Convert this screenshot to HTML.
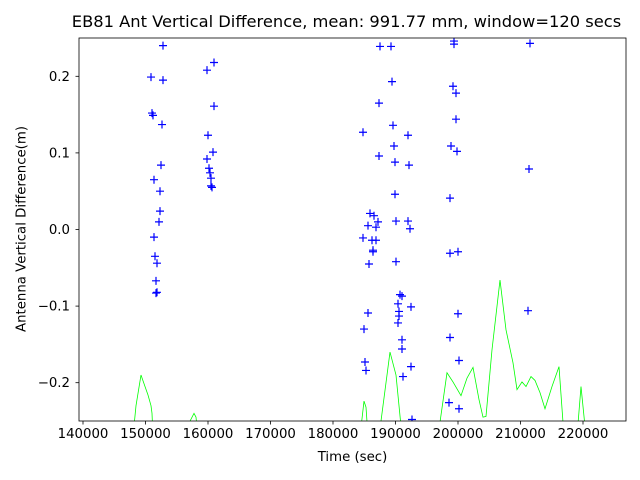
<!DOCTYPE html>
<html><head><meta charset="utf-8"><style>body{margin:0;background:#fff}svg{display:block;font-family:"DejaVu Sans","Liberation Sans",sans-serif}</style></head>
<body>
<svg id="c" width="640" height="480"></svg>
<script>
const ptTimes=[152800,150880,152800,151040,151200,152640,152480,151360,152320,152320,152160,151360,151520,151840,151680,151840,151680,
159840,160960,160960,160000,160800,159840,160160,160320,160480,160480,160640,
187520,189280,189440,187360,184800,189600,192000,189760,187360,189920,192160,189920,185920,186560,187200,185600,186880,190080,192000,192320,184800,186240,186880,186400,186400,185760,190080,190720,191040,190400,192480,185600,190560,190560,190400,184960,191040,191040,185120,185280,192480,191200,192640,
199360,199360,199200,199680,199680,198880,199840,198720,198720,200000,200000,198720,200160,198560,200160,211200,211520,211360];
const ptValues=[0.240,0.199,0.195,0.152,0.149,0.137,0.084,0.065,0.050,0.024,0.010,-0.010,-0.035,-0.044,-0.067,-0.082,-0.083,
0.208,0.218,0.161,0.123,0.101,0.092,0.080,0.074,0.067,0.057,0.055,
0.239,0.239,0.193,0.165,0.127,0.136,0.123,0.109,0.096,0.088,0.084,0.046,0.021,0.018,0.010,0.005,0.003,0.011,0.011,0.001,-0.011,-0.014,-0.014,-0.027,-0.029,-0.045,-0.042,-0.085,-0.087,-0.097,-0.101,-0.109,-0.107,-0.113,-0.122,-0.130,-0.144,-0.156,-0.173,-0.184,-0.179,-0.192,-0.248,
0.246,0.242,0.187,0.178,0.144,0.109,0.102,0.041,-0.031,-0.029,-0.110,-0.141,-0.171,-0.226,-0.234,-0.106,0.243,0.079];
const lineTimes=[148000,148480,149280,149920,150400,150880,151040,151200,154000,157760,158080,158400,170000,184320,184960,185280,185600,186240,187360,189120,190080,191040,194000,196800,198240,199200,200480,201440,202400,203360,204000,204480,205440,206720,207680,208800,209440,210240,210880,211680,212320,213120,213920,215040,216160,216960,219040,219680,220480,222000];
const lineValues=[-0.27,-0.23,-0.190,-0.205,-0.216,-0.23,-0.24,-0.27,-0.30,-0.24,-0.245,-0.27,-0.30,-0.27,-0.224,-0.232,-0.27,-0.30,-0.27,-0.160,-0.19,-0.27,-0.30,-0.27,-0.187,-0.199,-0.217,-0.194,-0.180,-0.222,-0.245,-0.244,-0.157,-0.066,-0.131,-0.174,-0.209,-0.199,-0.205,-0.192,-0.197,-0.213,-0.234,-0.205,-0.179,-0.27,-0.27,-0.205,-0.27,-0.30];
const xTicks=[140000,150000,160000,170000,180000,190000,200000,210000,220000];
const yTicks=[-0.2,-0.1,0.0,0.1,0.2];
const yLabels=["−0.2","−0.1","0.0","0.1","0.2"];
const L=79,R=626,T=38,B=421,xmin=139360,xmax=226880,ymin=-0.25,ymax=0.25;
const X=t=>L+(t-xmin)/(xmax-xmin)*(R-L);
const Y=v=>B-(v-ymin)/(ymax-ymin)*(B-T);
const NS="http://www.w3.org/2000/svg",svg=document.getElementById('c');
function mk(tag,at,parent){const e=document.createElementNS(NS,tag);for(const k in at)e.setAttribute(k,at[k]);(parent||svg).appendChild(e);return e;}
const defs=mk('defs',{});const cp=mk('clipPath',{id:'cl'},defs);mk('rect',{x:L,y:T,width:R-L,height:B-T},cp);
const g=mk('g',{'clip-path':'url(#cl)'});
const ln=mk('polyline',{points:lineTimes.map((t,i)=>X(t)+','+Y(lineValues[i])).join(' '),fill:'none',stroke:'#00ff00','stroke-width':0.8},g);


ptTimes.forEach((t,i)=>{const x=X(t),y=Y(ptValues[i]);
const p=mk('path',{d:`M${x-4},${y}H${x+4}M${x},${y-4}V${y+4}`,stroke:'#0000ff','stroke-width':1.2,fill:'none'},g);

});
const fr=mk('rect',{x:L,y:T,width:R-L,height:B-T,fill:'none',stroke:'#000','stroke-width':0.8});


xTicks.forEach(t=>{const x=X(t);mk('line',{x1:x,x2:x,y1:B,y2:B+3.5,stroke:'#000','stroke-width':0.8});
const tx=mk('text',{x:x,y:B+17,'font-size':'13.3','text-anchor':'middle'});tx.textContent=t;

});
yTicks.forEach((v,i)=>{const y=Y(v);mk('line',{x1:L-3.5,x2:L,y1:y,y2:y,stroke:'#000','stroke-width':0.8});
const tx=mk('text',{x:L-9,y:y+4.5,'font-size':'13.3','text-anchor':'end'});tx.textContent=yLabels[i];

});
</script>
<div style="position:absolute;left:0;top:0;width:640px;height:480px;pointer-events:none;font-family:'DejaVu Sans','Liberation Sans',sans-serif">
<div style="position:absolute;left:0;width:693px;top:12px;text-align:center;font-size:16.3px;white-space:nowrap">EB81 Ant Vertical Difference, mean: 991.77 mm, window=120 secs</div>
<div style="position:absolute;left:79px;width:547px;top:450px;text-align:center;font-size:13.3px">Time (sec)</div>
<div style="position:absolute;left:22px;top:229px;font-size:13.3px;white-space:nowrap;transform:translate(-50%,-50%) rotate(-90deg)">Antenna Vertical Difference(m)</div>
</div>
</body></html>
